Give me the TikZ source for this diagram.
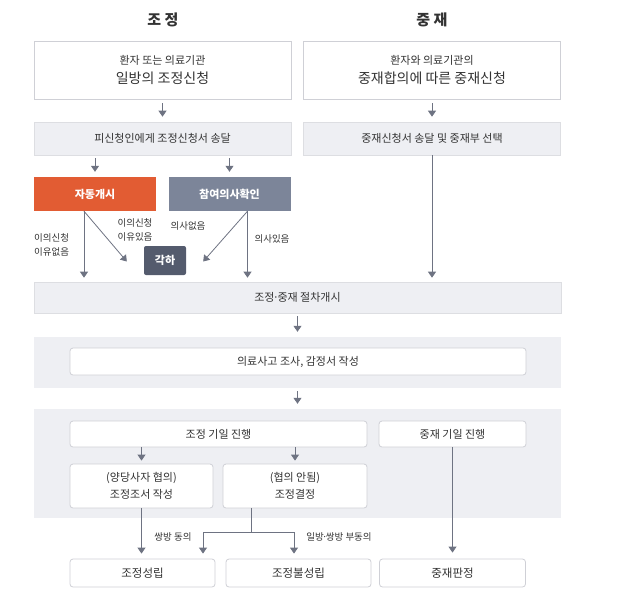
\documentclass[tikz,border=0pt]{standalone}
\usepackage{fontspec}
\setmainfont{Noto Sans CJK KR}
\usetikzlibrary{arrows.meta}

\definecolor{lineGray}{HTML}{6E7382}
\definecolor{boxBorder}{HTML}{CFD0D6}
\definecolor{bandFill}{HTML}{EEEFF3}
\definecolor{orangeFill}{HTML}{E25C33}
\definecolor{slateFill}{HTML}{7C8599}
\definecolor{darkFill}{HTML}{545B6D}
\definecolor{txtDark}{HTML}{333333}

\newcommand{\mdot}{\kern-1.6pt·\kern-1.6pt}

\tikzset{
  arr/.style={draw=lineGray, line width=0.8pt, -{Triangle[width=8pt,length=6pt]}},
  ln/.style={draw=lineGray, line width=0.8pt},
  whitebox/.style={rectangle, draw=boxBorder, fill=white, line width=0.8pt, align=center, text=txtDark, inner sep=0pt},
  graybox/.style={rectangle, draw=boxBorder!70, fill=bandFill, line width=0.6pt, align=center, text=txtDark, inner sep=0pt, font=\fontsize{11}{13}\selectfont},
  band/.style={rectangle, fill=bandFill, inner sep=0pt},
  roundbox/.style={whitebox, rounded corners=3pt, font=\fontsize{11}{17}\selectfont},
  colorbox/.style={rectangle, text=white, inner sep=0pt, font=\fontsize{11}{13}\selectfont\bfseries},
  lbl/.style={text=txtDark, align=left, inner sep=0pt, font=\fontsize{9.5}{14}\selectfont},
}

\begin{document}
\begin{tikzpicture}[x=1pt, y=-1pt]

  %% ════ 제목 ════
  \node[text=txtDark, font=\fontsize{15}{18}\selectfont\bfseries] (titleL) at (163,20) {조 정};
  \node[text=txtDark, font=\fontsize{15}{18}\selectfont\bfseries] (titleR) at (432,20) {중 재};

  %% ════ 신청 ════
  \node[whitebox, minimum width=257pt, minimum height=58pt] (applyL) at (162.5,70)
    {{\fontsize{11}{13}\selectfont 환자 또는 의료기관}\\[5pt]{\fontsize{14}{16}\selectfont 일방의 조정신청}};
  \node[whitebox, minimum width=257pt, minimum height=58pt] (applyR) at (432,70)
    {{\fontsize{11}{13}\selectfont 환자와 의료기관의}\\[5pt]{\fontsize{14}{16}\selectfont 중재합의에 따른 중재신청}};

  \node[graybox, minimum width=257pt, minimum height=33pt] (sendL) at (162.5,138.5) {피신청인에게 조정신청서 송달};
  \node[graybox, minimum width=257pt, minimum height=33pt] (sendR) at (432,138.5) {중재신청서 송달 및 중재부 선택};

  %% ════ 개시 / 확인 / 각하 ════
  \node[colorbox, fill=orangeFill, minimum width=122pt, minimum height=34pt] (auto) at (95,194) {자동개시};
  \node[colorbox, fill=slateFill, minimum width=122pt, minimum height=34pt] (confirm) at (229.5,194) {참여의사확인};
  \node[colorbox, fill=darkFill, rounded corners=2pt, minimum width=42pt, minimum height=29pt] (reject) at (165,260.5) {각하};

  \node[graybox, minimum width=527pt, minimum height=31pt] (start) at (297.5,297.5) {조정\mdot 중재 절차개시};

  %% ════ 감정 ════
  \node[band, minimum width=527pt, minimum height=51pt] (band1) at (297.5,362.5) {};
  \node[roundbox, minimum width=456pt, minimum height=27pt] (survey) at (298,361.5) {의료사고 조사, 감정서 작성};

  %% ════ 기일 ════
  \node[band, minimum width=527pt, minimum height=109pt] (band2) at (297.5,463.5) {};
  \node[roundbox, minimum width=297pt, minimum height=26pt] (medL) at (218.5,434) {조정 기일 진행};
  \node[roundbox, minimum width=147pt, minimum height=26pt] (arbL) at (452.5,434) {중재 기일 진행};
  \node[roundbox, minimum width=143pt, minimum height=44pt] (agree) at (141.5,486) {(양당사자 협의)\\조정조서 작성};
  \node[roundbox, minimum width=144pt, minimum height=44pt] (decide) at (295,486) {(협의 안됨)\\조정결정};

  %% ════ 결과 ════
  \node[roundbox, minimum width=145pt, minimum height=28pt, font=\fontsize{11.5}{13}\selectfont] (okay) at (142.5,573) {조정성립};
  \node[roundbox, minimum width=145pt, minimum height=28pt, font=\fontsize{11.5}{13}\selectfont] (fail) at (298.5,573) {조정불성립};
  \node[roundbox, minimum width=146pt, minimum height=28pt, font=\fontsize{11.5}{13}\selectfont] (award) at (452.5,573) {중재판정};

  %% ════ 연결선 ════
  \draw[arr, shorten <=4pt, shorten >=5pt] (applyL) -- (sendL);
  \draw[arr, shorten <=4pt, shorten >=5pt] (applyR) -- (sendR);
  \draw[arr, shorten <=3pt, shorten >=5pt] (auto.north |- sendL.south) -- (auto.north);
  \draw[arr, shorten <=3pt, shorten >=5pt] (confirm.north |- sendL.south) -- (confirm.north);
  \draw[arr, shorten >=4pt] (sendR) -- (sendR |- start.north);

  \coordinate (autoOut) at ([xshift=-11pt]auto.south);
  \coordinate (confOut) at ([xshift=18pt]confirm.south);
  \draw[arr, shorten >=4pt] (autoOut) -- (autoOut |- start.north);
  \draw[arr] (autoOut) -- ([xshift=-17pt,yshift=-1pt]reject.west);
  \draw[arr] (confOut) -- ([xshift=17pt,yshift=-1pt]reject.east);
  \draw[arr, shorten >=4pt] (confOut) -- (confOut |- start.north);

  \draw[arr, shorten <=3pt, shorten >=5pt] (start.south) -- (start.south |- band1.north);
  \draw[arr, shorten <=3pt, shorten >=5pt] (start.south |- band1.south) -- (start.south |- band2.north);

  \draw[arr, shorten >=3pt] (agree.north |- medL.south) -- (agree.north);
  \draw[arr, shorten >=3pt] (decide.north |- medL.south) -- (decide.north);
  \draw[arr, shorten >=6pt] (arbL.south) -- (arbL.south |- award.north);
  \draw[arr, shorten >=5pt] (agree.south) -- (agree.south |- okay.north);

  \coordinate (decOut) at ([xshift=-44pt]decide.south);
  \draw[ln] (decOut) -- ++(0,24) coordinate (split);
  \draw[arr, shorten >=5pt] (split) -| ([xshift=60.5pt]okay.north);
  \draw[arr, shorten >=5pt] (split) -| ([xshift=-4.5pt]fail.north);

  %% ════ 라벨 ════
  \node[lbl, anchor=west] (noReason) at (34,245) {이의신청\\이유없음};
  \node[lbl] (yesReason) at (135,230) {이의신청\\이유있음};
  \node[lbl] (noWill) at (188,226) {의사없음};
  \node[lbl] (yesWill) at (272,239) {의사있음};
  \node[lbl] (bothAgree) at (173,537) {쌍방 동의};
  \node[lbl] (disagree) at (339,537) {일방\mdot 쌍방 부동의};

  \pgfresetboundingbox
  \path[use as bounding box] (0,0) rectangle (640,603);
\end{tikzpicture}
\end{document}
